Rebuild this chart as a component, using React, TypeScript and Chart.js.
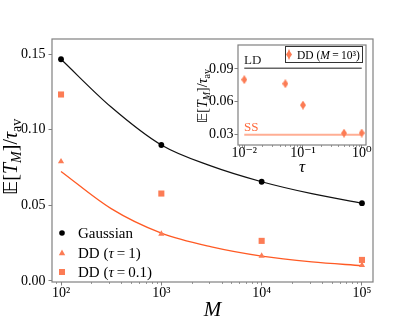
import React, { useEffect, useRef } from "react";
import Chart from "chart.js/auto";

// ---------- data ----------
const M_VALUES = [100, 1000, 10000, 100000];
const GAUSS = [0.1466, 0.0899, 0.0656, 0.0514];
const DD_TAU1 = [0.079, 0.0311, 0.0166, 0.0104];
const DD_TAU01 = [0.1233, 0.0578, 0.0265, 0.0139];

const FIT_M = [100, 316, 1000, 3162, 10000, 31623, 100000];
const FIT_GAUSS = [0.1466, 0.1150, 0.0899, 0.0759, 0.0656, 0.0577, 0.0514];
const FIT_DD = [0.0724, 0.0478, 0.0316, 0.0225, 0.0164, 0.0126, 0.0101];

const X_TICKS = [100, 1000, 10000, 100000];
const X_TICK_LABELS = ["10\u00B2", "10\u00B3", "10\u2074", "10\u2075"];
const Y_TICKS = [0, 0.05, 0.1, 0.15];

const INSET_TAU = [0.01, 0.05, 0.1, 0.5, 1];
const INSET_DD = [0.0801, 0.0764, 0.0567, 0.0309, 0.031];
const INSET_ERR = [0.0015, 0.0015, 0.0015, 0.0015, 0.0015];
const LD_LEVEL = 0.0906;
const SS_LEVEL = 0.0295;
const LINE_TAU = [0.01, 1];
const INSET_X_TICKS = [0.01, 0.1, 1];
const INSET_X_LABELS = ["10\u207B\u00B2", "10\u207B\u00B9", "10\u2070"];
const INSET_Y_TICKS = [0.03, 0.06, 0.09];

// ---------- style ----------
const SERIF = '"Liberation Serif", "DejaVu Serif", serif';
const BB = '"DejaVu Sans", "DejaVu Serif", serif';
const ORANGE_M = "#fc7c55";
const ORANGE_L = "#ff5a24";
const SPINE = "#808080";

type Seg = { t: string; f: string; dy?: number };

function drawRich(ctx: CanvasRenderingContext2D, segs: Seg[], x: number, y: number, align: "left" | "center") {
  let w = 0;
  for (const s of segs) {
    ctx.font = s.f;
    w += ctx.measureText(s.t).width;
  }
  let cx = align === "center" ? x - w / 2 : x;
  ctx.textBaseline = "alphabetic";
  ctx.textAlign = "left";
  for (const s of segs) {
    ctx.font = s.f;
    ctx.fillText(s.t, cx, y + (s.dy || 0));
    cx += ctx.measureText(s.t).width;
  }
}

function yTitle(size: number, sub: number): Seg[] {
  return [
    { t: "\uD835\uDD3C", f: `${size}px ${BB}` },
    { t: "[", f: `${size}px ${SERIF}` },
    { t: "T", f: `italic ${size}px ${SERIF}` },
    { t: "M", f: `italic ${sub}px ${SERIF}`, dy: size * 0.2 },
    { t: "]/", f: `${size}px ${SERIF}` },
    { t: "\u03C4", f: `italic ${size}px ${SERIF}` },
    { t: "av", f: `${sub}px ${SERIF}`, dy: size * 0.2 },
  ];
}

function makeDiamond(color: string) {
  const c = document.createElement("canvas");
  c.width = 6;
  c.height = 9;
  const g = c.getContext("2d")!;
  g.fillStyle = color;
  g.beginPath();
  g.moveTo(3, 0);
  g.lineTo(6, 4.5);
  g.lineTo(3, 9);
  g.lineTo(0, 4.5);
  g.closePath();
  g.fill();
  return c;
}

function drawMinorLog(ctx: CanvasRenderingContext2D, scale: any, bottom: number) {
  const min = scale.min, max = scale.max;
  ctx.save();
  ctx.strokeStyle = SPINE;
  ctx.lineWidth = 0.8;
  for (let k = Math.floor(Math.log10(min)); k <= Math.ceil(Math.log10(max)); k++) {
    for (let m = 2; m <= 9; m++) {
      const v = m * Math.pow(10, k);
      if (v < min || v > max) continue;
      const px = Math.round(scale.getPixelForValue(v)) + 0.5;
      ctx.beginPath();
      ctx.moveTo(px, bottom);
      ctx.lineTo(px, bottom + 2);
      ctx.stroke();
    }
  }
  ctx.restore();
}

function drawFrame(ctx: CanvasRenderingContext2D, a: any) {
  ctx.save();
  ctx.strokeStyle = SPINE;
  ctx.lineWidth = 1.2;
  ctx.strokeRect(a.left, a.top, a.right - a.left, a.bottom - a.top);
  ctx.restore();
}

const mainPlugin = {
  id: "mainDeco",
  afterDraw(chart: any) {
    const ctx: CanvasRenderingContext2D = chart.ctx;
    const a = chart.chartArea;
    drawFrame(ctx, a);
    drawMinorLog(ctx, chart.scales.x, a.bottom);
    ctx.save();
    ctx.fillStyle = "#000";
    // y title
    ctx.save();
    ctx.translate(17, 157);
    ctx.rotate(-Math.PI / 2);
    drawRich(ctx, yTitle(20, 14), 0, 0, "center");
    ctx.restore();
    // x title
    drawRich(ctx, [{ t: "M", f: `italic 21px ${SERIF}` }], (a.left + a.right) / 2, 316, "center");
    // legend
    const lx = 62, tx = 78;
    const rows = [233, 253, 272];
    ctx.fillStyle = "#000";
    ctx.beginPath();
    ctx.arc(lx, rows[0], 2.8, 0, Math.PI * 2);
    ctx.fill();
    ctx.fillStyle = ORANGE_M;
    ctx.beginPath();
    ctx.moveTo(lx, rows[1] - 3.5);
    ctx.lineTo(lx + 3.2, rows[1] + 2.2);
    ctx.lineTo(lx - 3.2, rows[1] + 2.2);
    ctx.closePath();
    ctx.fill();
    ctx.fillRect(lx - 3, rows[2] - 3, 6, 6);
    ctx.fillStyle = "#000";
    const f = `15px ${SERIF}`, fi = `italic 15px ${SERIF}`;
    drawRich(ctx, [{ t: "Gaussian", f }], tx, rows[0] + 5, "left");
    drawRich(ctx, [{ t: "DD (", f }, { t: "\u03C4", f: fi }, { t: "\u2009=\u20091)", f }], tx, rows[1] + 5, "left");
    drawRich(ctx, [{ t: "DD (", f }, { t: "\u03C4", f: fi }, { t: "\u2009=\u20090.1)", f }], tx, rows[2] + 5, "left");
    ctx.restore();
  },
};

const insetPlugin = {
  id: "insetDeco",
  beforeDraw(chart: any) {
    const ctx: CanvasRenderingContext2D = chart.ctx;
    const a = chart.chartArea;
    ctx.save();
    ctx.fillStyle = "#fff";
    ctx.fillRect(a.left, a.top, a.right - a.left, a.bottom - a.top);
    ctx.restore();
  },
  afterDatasetsDraw(chart: any) {
    const ctx: CanvasRenderingContext2D = chart.ctx;
    const xs = chart.scales.x, ys = chart.scales.y;
    ctx.save();
    ctx.strokeStyle = ORANGE_M;
    ctx.lineWidth = 1;
    INSET_TAU.forEach((t, i) => {
      const px = xs.getPixelForValue(t);
      ctx.beginPath();
      ctx.moveTo(px, ys.getPixelForValue(INSET_DD[i] - INSET_ERR[i]));
      ctx.lineTo(px, ys.getPixelForValue(INSET_DD[i] + INSET_ERR[i]));
      ctx.stroke();
    });
    ctx.restore();
  },
  afterDraw(chart: any) {
    const ctx: CanvasRenderingContext2D = chart.ctx;
    const a = chart.chartArea;
    drawFrame(ctx, a);
    drawMinorLog(ctx, chart.scales.x, a.bottom);
    ctx.save();
    ctx.fillStyle = "#000";
    ctx.save();
    ctx.translate(207, 96);
    ctx.rotate(-Math.PI / 2);
    drawRich(ctx, yTitle(14, 10), 0, 0, "center");
    ctx.restore();
    drawRich(ctx, [{ t: "\u03C4", f: `italic 17px ${SERIF}` }], (a.left + a.right) / 2, 172, "center");
    // LD / SS labels
    ctx.fillStyle = "#222";
    drawRich(ctx, [{ t: "LD", f: `13px ${SERIF}` }], 244, 64, "left");
    ctx.fillStyle = "#ff6a3d";
    drawRich(ctx, [{ t: "SS", f: `13px ${SERIF}` }], 244, 131, "left");
    // legend box
    ctx.fillStyle = "#fff";
    ctx.strokeStyle = "#333";
    ctx.lineWidth = 1;
    ctx.fillRect(285.5, 46.5, 77, 16);
    ctx.strokeRect(285.5, 46.5, 77, 16);
    ctx.drawImage(diamondImg, 289 - 3, 54.5 - 4.5);
    ctx.strokeStyle = ORANGE_M;
    ctx.beginPath();
    ctx.moveTo(289, 49.5);
    ctx.lineTo(289, 59.5);
    ctx.stroke();
    ctx.fillStyle = "#000";
    const f = `11.5px ${SERIF}`;
    drawRich(ctx, [{ t: "DD (", f }, { t: "M", f: `italic 11.5px ${SERIF}` }, { t: "\u2009=\u200910\u00B3)", f }], 297, 59, "left");
    ctx.restore();
  },
};

let diamondImg: HTMLCanvasElement;

function pts(xs: number[], ys: number[]) {
  return xs.map((x, i) => ({ x, y: ys[i] }));
}

export default function App() {
  const mainRef = useRef<HTMLCanvasElement>(null);
  const insetRef = useRef<HTMLCanvasElement>(null);

  useEffect(() => {
    diamondImg = makeDiamond(ORANGE_M);
    const tickFont = { family: SERIF, size: 14 };
    const c1 = new Chart(mainRef.current!, {
      type: "scatter",
      data: {
        datasets: [
          { data: pts(M_VALUES, GAUSS), pointStyle: "circle", pointRadius: 2.9, backgroundColor: "#000", borderWidth: 0 },
          { data: pts(M_VALUES, DD_TAU1), pointStyle: "triangle", pointRadius: 3.6, backgroundColor: ORANGE_M, borderWidth: 0 },
          { data: pts(M_VALUES, DD_TAU01), pointStyle: "rect", pointRadius: 4.3, backgroundColor: ORANGE_M, borderWidth: 0 },
          { data: pts(FIT_M, FIT_GAUSS), showLine: true, pointRadius: 0, borderColor: "#111", borderWidth: 1.2, cubicInterpolationMode: "monotone" },
          { data: pts(FIT_M, FIT_DD), showLine: true, pointRadius: 0, borderColor: ORANGE_L, borderWidth: 1.3, cubicInterpolationMode: "monotone" },
        ] as any,
      },
      options: {
        responsive: false,
        animation: false,
        devicePixelRatio: 1,
        layout: { padding: { left: 0, top: 39, right: 42, bottom: 0 } },
        plugins: { legend: { display: false }, tooltip: { enabled: false } },
        scales: {
          x: {
            type: "logarithmic",
            min: 81.3,
            max: 128800,
            border: { display: false },
            grid: { drawOnChartArea: false, drawTicks: true, tickLength: 3.5, color: SPINE },
            ticks: { font: tickFont, color: "#000", padding: -1, maxRotation: 0, autoSkip: false, callback: (v: any) => { const i = X_TICKS.indexOf(Number(v)); return i >= 0 ? X_TICK_LABELS[i] : ""; } },
            afterBuildTicks: (s: any) => { s.ticks = X_TICKS.map((v) => ({ value: v })); },
            afterFit: (s: any) => { s.height = 41; },
          },
          y: {
            type: "linear",
            min: -0.0007,
            max: 0.16,
            border: { display: false },
            grid: { drawOnChartArea: false, drawTicks: true, tickLength: 3.5, color: SPINE },
            ticks: { font: tickFont, color: "#000", padding: 3, callback: (v: any) => Number(v).toFixed(2) },
            afterBuildTicks: (s: any) => { s.ticks = Y_TICKS.map((v) => ({ value: v })); },
            afterFit: (s: any) => { s.width = 52; },
          },
        },
      } as any,
      plugins: [mainPlugin],
    });

    const c2 = new Chart(insetRef.current!, {
      type: "scatter",
      data: {
        datasets: [
          { data: pts(INSET_TAU, INSET_DD), pointStyle: diamondImg, pointRadius: 4, backgroundColor: ORANGE_M },
          { data: pts(LINE_TAU, [LD_LEVEL, LD_LEVEL]), showLine: true, pointRadius: 0, borderColor: "#666", borderWidth: 1.5 },
          { data: pts(LINE_TAU, [SS_LEVEL, SS_LEVEL]), showLine: true, pointRadius: 0, borderColor: "#ffae94", borderWidth: 2 },
        ] as any,
      },
      options: {
        responsive: false,
        animation: false,
        devicePixelRatio: 1,
        layout: { padding: { left: 200, top: 45, right: 49, bottom: 148 } },
        plugins: { legend: { display: false }, tooltip: { enabled: false } },
        scales: {
          x: {
            type: "logarithmic",
            min: 0.00782,
            max: 1.183,
            border: { display: false },
            grid: { drawOnChartArea: false, drawTicks: true, tickLength: 3.5, color: SPINE },
            ticks: { font: tickFont, color: "#000", padding: -4, maxRotation: 0, autoSkip: false, callback: (v: any) => { const i = INSET_X_TICKS.findIndex((t) => Math.abs(t - Number(v)) < 1e-9); return i >= 0 ? INSET_X_LABELS[i] : ""; } },
            afterBuildTicks: (s: any) => { s.ticks = INSET_X_TICKS.map((v) => ({ value: v })); },
            afterFit: (s: any) => { s.height = 30; },
          },
          y: {
            type: "linear",
            min: 0.02,
            max: 0.112,
            border: { display: false },
            grid: { drawOnChartArea: false, drawTicks: true, tickLength: 3.5, color: SPINE },
            ticks: { font: tickFont, color: "#000", padding: 1, callback: (v: any) => Number(v).toFixed(2) },
            afterBuildTicks: (s: any) => { s.ticks = INSET_Y_TICKS.map((v) => ({ value: v })); },
            afterFit: (s: any) => { s.width = 38; },
          },
        },
      } as any,
      plugins: [insetPlugin],
    });
    return () => {
      c1.destroy();
      c2.destroy();
    };
  }, []);

  return (
    <div style={{ position: "absolute", left: 0, top: 0, width: 415, height: 323, background: "#fff" }}>
      <canvas ref={mainRef} width={415} height={323} style={{ position: "absolute", left: 0, top: 0 }} />
      <canvas ref={insetRef} width={415} height={323} style={{ position: "absolute", left: 0, top: 0 }} />
    </div>
  );
}
